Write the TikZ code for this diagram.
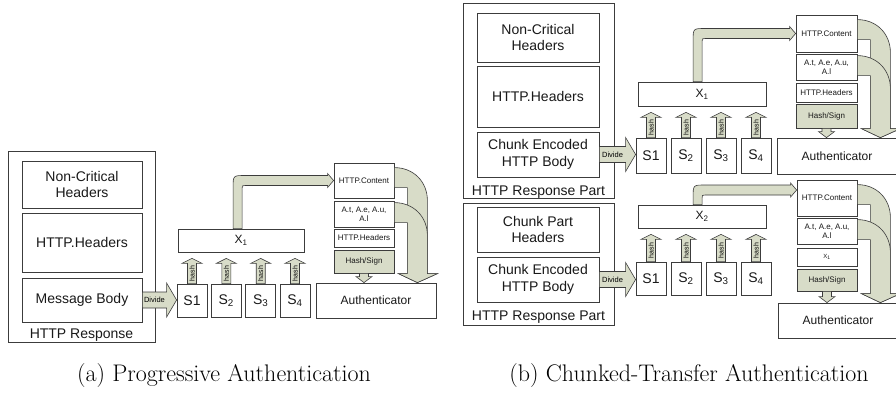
\documentclass[tikz,border=0pt]{standalone}
\usepackage{fontspec}
\newfontfamily\arialf{Liberation Sans}
\usetikzlibrary{calc}
\definecolor{boxc}{RGB}{60,60,60}
\definecolor{afill}{RGB}{216,220,200}
\tikzset{
  bx/.style={draw=boxc, line width=0.8pt, inner sep=0pt, align=center, text=black!90},
  big/.style={font=\arialf\fontsize{14}{16.5}\selectfont},
  mid/.style={font=\arialf\fontsize{12}{14}\selectfont},
  sml/.style={font=\arialf\fontsize{8}{9.5}\selectfont},
  tinytxt/.style={font=\arialf\fontsize{6}{7}\selectfont},
  blk/.style={draw=boxc, line width=0.6pt, fill=afill, line join=miter},
  hsfill/.style={fill=afill},
  lbl/.style={font=\arialf\fontsize{14}{16.5}\selectfont, inner sep=0pt, anchor=base, text=black!90},
  captxt/.style={font=\fontsize{24}{28}\selectfont, inner sep=0pt, anchor=base},
}
% box: name, style, x1, y1, x2, y2, text
\newcommand\bxn[7]{\node[bx,#2,minimum width={#5-#3},minimum height={#6-#4}] (#1) at ({(#3+#5)/2},{(#4+#6)/2}) {#7};}
\newcommand\hasharrow[2]{%
  \coordinate (ht) at ($(#1.north |- #2.south)+(0,6)$);
  \coordinate (hb) at ($(ht)+(0,5)$);
  \draw[blk] ($(#1.north)+(-4.5,0)$) -- ($(ht)+(-4.5,5)$) -- ($(ht)+(-10,5)$) -- (ht) -- ($(ht)+(10,5)$) -- ($(ht)+(4.5,5)$) -- ($(#1.north)+(4.5,0)$) -- cycle;
  \node[font=\arialf\fontsize{7}{7}\selectfont, rotate=90, inner sep=0pt] at ($(#1.north)!0.5!(hb)$) {hash};
}
\newcommand\dividearrow[2]{%
  \coordinate (dt) at (#2.west |- #1.east);
  \coordinate (dm) at ($(dt)+(-10,0)$);
  \draw[blk] ($(#1.east)+(0,-8)$) -- ($(dt)+(-10,-8)$) -- ($(dt)+(-10,-17)$) -- (dt) -- ($(dt)+(-10,17)$) -- ($(dt)+(-10,8)$) -- ($(#1.east)+(0,8)$) -- cycle;
  \node[font=\arialf\fontsize{7.5}{8}\selectfont, inner sep=0pt] at ($(#1.east)!0.5!(dm)$) {Divide};
}
\newcommand\hsarrow[2]{%
  \coordinate (st) at (#1.south |- #2.north);
  \draw[blk] ($(#1.south)+(-4.5,0)$) -- ($(st)+(-4.5,-6)$) -- ($(st)+(-8,-6)$) -- (st) -- ($(st)+(8,-6)$) -- ($(st)+(4.5,-6)$) -- ($(#1.south)+(4.5,0)$) -- cycle;
}
% elbow: source X node, x offset, target node, y offset of band
\newcommand\elbowarrow[4]{%
  \coordinate (ea) at ($(#1.north west)+(#2,0)$);
  \coordinate (ec) at ($(#3.west)+(0,#4)$);
  \coordinate (eb) at (ea |- ec);
  \draw[blk] ($(ea)+(-4.5,0)$) -- ($(eb)+(-4.5,7)$) .. controls ($(eb)+(-4.5,-5)$) .. ($(eb)+(7.5,-5)$) -- ($(ec)+(-6,-5)$) -- ($(ec)+(-6,-7)$) -- (ec) -- ($(ec)+(-6,7)$) -- ($(ec)+(-6,5)$) -- ($(eb)+(7.5,5)$) .. controls ($(eb)+(4.5,5)$) .. ($(eb)+(4.5,8)$) -- ($(ea)+(4.5,0)$) -- cycle;
}
% curved: start box, band top offset, target auth node
\newcommand\curvearrow[3]{%
  \coordinate (cn) at (#1.north east);
  \coordinate (ch) at (cn |- #3.north);
  \draw[blk] ($(cn)+(0,#2)$) .. controls ($(cn)+(19,#2)$) and ($(cn)+(33,#2+14)$) .. ($(cn)+(33,#2+33)$) -- ($(ch)+(33,-9)$) -- ($(ch)+(43,-9)$) -- ($(ch)+(23,0)$) -- ($(ch)+(4,-9)$) -- ($(ch)+(13,-9)$) -- ($(cn)+(13,#2+20)$) -- ($(cn)+(0,#2+20)$) -- cycle;
}
\begin{document}
\begin{tikzpicture}[x=1pt,y=-1pt]
\useasboundingbox (0,0) rectangle (896,392);
\fill[white] (0,0) rectangle (896,392);
\clip (0,0) rectangle (896,392);

% ================= (a) =================
\bxn{aOuter}{}{8}{151}{155}{342}{}
\bxn{aNC}{big}{22}{161}{142}{208}{Non-Critical\\Headers}
\bxn{aHH}{big}{22}{213}{142}{272}{HTTP.Headers}
\bxn{aMB}{big}{22}{278}{142}{322}{Message Body}
\node[lbl] (aLbl) at (81.5,338) {HTTP Response};
\bxn{aS1}{big}{177}{284}{207}{317}{S1}
\bxn{aS2}{big}{211.3}{284}{241.3}{317}{S\textsubscript{2}}
\bxn{aS3}{big}{245.7}{284}{275.7}{317}{S\textsubscript{3}}
\bxn{aS4}{big}{280}{284}{310}{317}{S\textsubscript{4}}
\bxn{aX}{mid}{178}{229}{304}{252}{X\textsubscript{1}}
\bxn{aAuth}{mid}{316}{283}{436}{318}{Authenticator}
\bxn{aContent}{sml}{334}{163}{394}{198}{HTTP.Content}
\bxn{aAt}{sml}{334}{201}{394}{227}{A.t, A.e, A.u,\\A.l}
\bxn{aHdr}{sml}{334}{229}{394}{247}{HTTP.Headers}
\bxn{aHS}{sml,hsfill}{334}{250}{394}{273}{Hash/Sign}
\dividearrow{aMB}{aS1}
\foreach \s in {aS1,aS2,aS3,aS4} {\hasharrow{\s}{aX}}
\hsarrow{aHS}{aAuth}
\elbowarrow{aX}{60}{aContent}{0}
\curvearrow{aContent}{5}{aAuth}
\curvearrow{aAt}{2}{aAuth}

% ================= (b) top =================
\bxn{btOuter}{}{463}{3}{614}{198}{}
\bxn{btNC}{big}{477}{13}{599}{62}{Non-Critical\\Headers}
\bxn{btHH}{big}{477}{66}{599}{127}{HTTP.Headers}
\bxn{btCE}{big}{477}{132}{599}{177}{Chunk Encoded\\HTTP Body}
\node[lbl] (btLbl) at (538.5,195.5) {HTTP Response Part};
\bxn{btS1}{big}{636}{138}{666}{173}{S1}
\bxn{btS2}{big}{671}{138}{701}{173}{S\textsubscript{2}}
\bxn{btS3}{big}{706}{138}{736}{173}{S\textsubscript{3}}
\bxn{btS4}{big}{741}{138}{771}{173}{S\textsubscript{4}}
\bxn{btX}{mid}{638}{82}{766}{106}{X\textsubscript{1}}
\bxn{btAuth}{mid}{777}{138}{897}{174}{Authenticator}
\bxn{btContent}{sml}{796}{15}{857}{52}{HTTP.Content}
\bxn{btAt}{sml}{796}{54}{857}{80}{A.t, A.e, A.u,\\A.l}
\bxn{btHdr}{sml}{796}{83}{857}{102}{HTTP.Headers}
\bxn{btHS}{sml,hsfill}{796}{104}{857}{128}{Hash/Sign}
\dividearrow{btCE}{btS1}
\foreach \s in {btS1,btS2,btS3,btS4} {\hasharrow{\s}{btX}}
\hsarrow{btHS}{btAuth}
\elbowarrow{btX}{60}{btContent}{0}
\curvearrow{btContent}{5}{btAuth}
\curvearrow{btAt}{2}{btAuth}

% ================= (b) bottom =================
\bxn{bbOuter}{}{463}{203}{614}{325}{}
\bxn{bbCP}{big}{477}{207}{599}{252}{Chunk Part\\Headers}
\bxn{bbCE}{big}{477}{257}{599}{302}{Chunk Encoded\\HTTP Body}
\node[lbl] (bbLbl) at (538.5,320.5) {HTTP Response Part};
\bxn{bbS1}{big}{636}{262}{666}{295}{S1}
\bxn{bbS2}{big}{671}{262}{701}{295}{S\textsubscript{2}}
\bxn{bbS3}{big}{706}{262}{736}{295}{S\textsubscript{3}}
\bxn{bbS4}{big}{741}{262}{771}{295}{S\textsubscript{4}}
\bxn{bbX}{mid}{638}{205}{766}{228}{X\textsubscript{2}}
\bxn{bbAuth}{mid}{778}{303}{898}{338}{Authenticator}
\bxn{bbContent}{sml}{797}{180}{857}{216}{HTTP.Content}
\bxn{bbAt}{sml}{797}{218}{857}{244}{A.t, A.e, A.u,\\A.l}
\bxn{bbX1}{tinytxt}{797}{248}{857}{266}{X\textsubscript{1}}
\bxn{bbHS}{sml,hsfill}{797}{269}{857}{291}{Hash/Sign}
\dividearrow{bbCE}{bbS1}
\foreach \s in {bbS1,bbS2,bbS3,bbS4} {\hasharrow{\s}{bbX}}
\hsarrow{bbHS}{bbAuth}
\elbowarrow{bbX}{60}{bbContent}{-8}
\curvearrow{bbContent}{5}{bbAuth}
\curvearrow{bbAt}{2}{bbAuth}

% captions
\node[captxt] (capA) at (224,381) {(a) Progressive Authentication};
\node[captxt] (capB) at (689,381) {(b) Chunked-Transfer Authentication};
\end{tikzpicture}
\end{document}
